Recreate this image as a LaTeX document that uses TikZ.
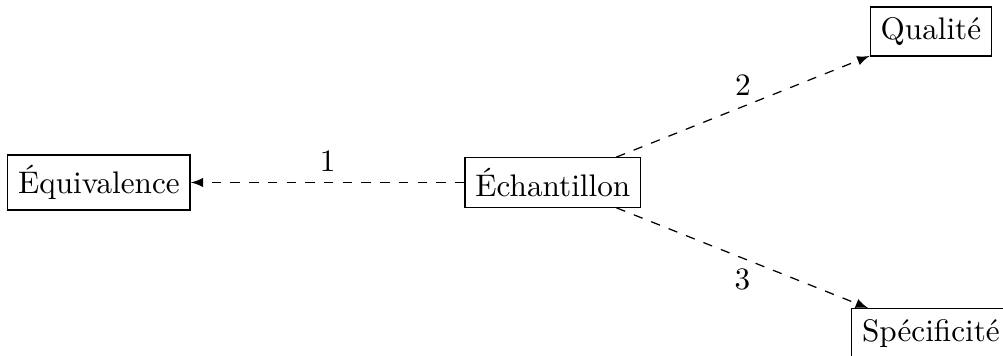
\documentclass[tikz,border=0pt]{standalone}
\usetikzlibrary{arrows}
\begin{document}
\begin{tikzpicture}[x=1pt,y=1pt,
  box/.style={draw,rectangle,inner sep=3.33pt},
  link/.style={dashed,-latex},
  lbl/.style={font=\normalsize}]
\useasboundingbox (0,0) rectangle (321.5,-114.1);
\node[box] (ech) at (177.2,-58.5) {Échantillon};
\node[box] (equ) at (31.7,-58.5) {Équivalence};
\node[box] (qua) at (298.4,-10.1) {Qualité};
\node[box] (spe) at (298.4,-106.8) {Spécificité};
\draw[link] (ech) -- node[above,lbl] {1} (equ);
\draw[link] (ech) -- node[above,lbl] {2} (qua);
\draw[link] (ech) -- node[below,lbl] {3} (spe);
\end{tikzpicture}
\end{document}
